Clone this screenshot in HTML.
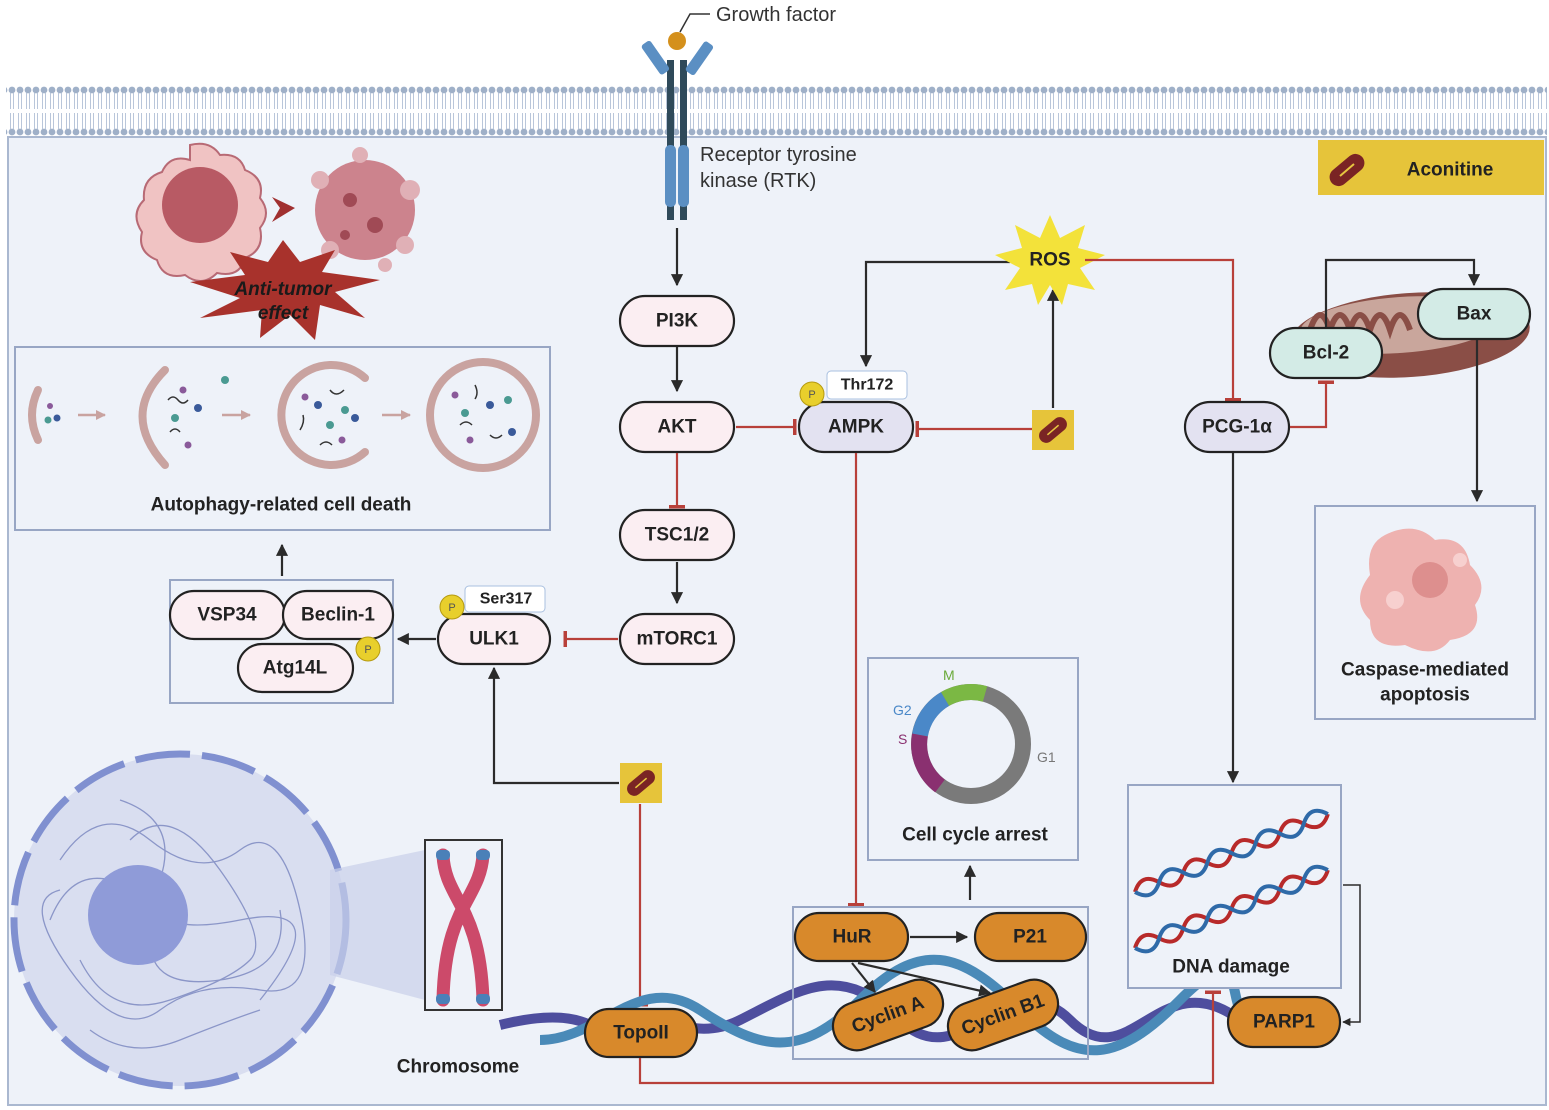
<!DOCTYPE html>
<html><head><meta charset="utf-8"><style>
html,body{margin:0;padding:0;background:#fff;}
svg{display:block;font-family:"Liberation Sans",sans-serif;}
.n{stroke:#222;stroke-width:2.2;}
.t{font-weight:bold;font-size:19px;text-anchor:middle;dominant-baseline:central;fill:#222;}
.k{stroke:#2b2b2b;stroke-width:2.2;fill:none;}
.r{stroke:#b8403a;stroke-width:2.2;fill:none;}
.box{fill:none;stroke:#98a6c4;stroke-width:2;}
</style></head><body>
<svg width="1549" height="1110" viewBox="0 0 1549 1110" xmlns="http://www.w3.org/2000/svg">
<defs>
<marker id="a" viewBox="0 0 10 10" refX="9" refY="5" markerWidth="5.5" markerHeight="5.5" orient="auto"><path d="M0,0L10,5L0,10z" fill="#2b2b2b"/></marker>
<marker id="a2" viewBox="0 0 10 10" refX="9" refY="5" markerWidth="4" markerHeight="4" orient="auto"><path d="M0,0L10,5L0,10z" fill="#c9a3a0"/></marker>
<marker id="b" viewBox="0 0 4 16" refX="2" refY="8" markerWidth="4" markerHeight="16" orient="auto" markerUnits="userSpaceOnUse"><rect x="0" y="0" width="3.5" height="16" fill="#b8403a"/></marker>
<pattern id="mem" x="0" y="86" width="8" height="50" patternUnits="userSpaceOnUse">
<circle cx="4" cy="4" r="3.4" fill="#9fb0c8"/><circle cx="4" cy="46" r="3.4" fill="#9fb0c8"/>
<path d="M2.5,7 L2.5,23 M5.5,7 L5.5,23 M2.5,27 L2.5,43 M5.5,27 L5.5,43" stroke="#b9c6da" stroke-width="1"/>
</pattern>
<g id="pill"><rect x="-9" y="-20" width="18" height="40" rx="9" fill="#7a2424" transform="rotate(50)"/><line x1="-7" y1="6" x2="7" y2="-6" stroke="#e7c640" stroke-width="2"/></g>
<path id="hx" d="M0,0 q13,-16 26,0 t26,0 t26,0 t26,0 t26,0 t26,0 t26,0 t26,0"/>
</defs>
<rect width="1549" height="1110" fill="#fff"/>
<rect x="8" y="137" width="1538" height="968" fill="#eef2f9" stroke="#aab8d0" stroke-width="2"/>
<rect x="6" y="86" width="1541" height="50" fill="url(#mem)"/>

<!-- receptor -->
<g>
<rect x="667" y="60" width="7" height="160" fill="#2f4a5a"/><rect x="680" y="60" width="7" height="160" fill="#2f4a5a"/>
<rect x="665" y="145" width="11" height="62" rx="5" fill="#5b8fc3"/><rect x="678" y="145" width="11" height="62" rx="5" fill="#5b8fc3"/>
<rect x="650" y="40" width="11" height="36" rx="3" fill="#5b8fc3" transform="rotate(-35 655 58)"/>
<rect x="694" y="40" width="11" height="36" rx="3" fill="#5b8fc3" transform="rotate(35 699 58)"/>
<circle cx="677" cy="41" r="9" fill="#d4901c"/>
<path d="M680,32 L690,14 L710,14" stroke="#333" stroke-width="1.5" fill="none"/>
<text x="716" y="21" font-size="20" fill="#333">Growth factor</text>
<text x="700" y="161" font-size="20" fill="#333">Receptor tyrosine</text>
<text x="700" y="187" font-size="20" fill="#333">kinase (RTK)</text>
</g>

<!-- tumor cells -->
<path d="M190,145 q20,-5 30,10 q20,-2 25,15 q20,8 15,28 q12,15 0,30 q5,22 -15,30 q-5,20 -28,15 q-15,15 -32,2 q-22,5 -28,-15 q-20,-8 -15,-28 q-12,-18 2,-32 q-2,-22 18,-28 q8,-18 28,-12z" fill="#f0c3c3" stroke="#b86a75" stroke-width="2"/>
<circle cx="200" cy="205" r="38" fill="#b85a64"/>
<path d="M272,197 L295,208 L272,222 L280,208z" fill="#a03030"/>
<g fill="#c5707a" opacity="0.85"><circle cx="365" cy="210" r="50"/></g>
<g fill="#e0b0b6"><circle cx="320" cy="180" r="9"/><circle cx="410" cy="190" r="10"/><circle cx="330" cy="250" r="9"/><circle cx="405" cy="245" r="9"/><circle cx="360" cy="155" r="8"/><circle cx="385" cy="265" r="7"/></g>
<g fill="#a04a55"><circle cx="350" cy="200" r="7"/><circle cx="375" cy="225" r="8"/><circle cx="345" cy="235" r="5"/></g>
<polygon points="283,240 300,262 335,250 322,272 380,280 335,292 365,318 320,305 315,340 290,315 260,338 262,310 200,318 240,298 190,282 245,275 230,252 268,262" fill="#a8322c"/>
<text x="283" y="295" font-size="19" font-weight="bold" font-style="italic" text-anchor="middle" fill="#1a1a1a">Anti-tumor</text>
<text x="283" y="319" font-size="19" font-weight="bold" font-style="italic" text-anchor="middle" fill="#1a1a1a">effect</text>

<!-- aconitine -->
<rect x="1318" y="140" width="226" height="55" fill="#e6c43a"/>
<use href="#pill" x="1347" y="170"/>
<text x="1450" y="170" class="t" font-size="24">Aconitine</text>

<!-- autophagy box -->
<rect x="15" y="347" width="535" height="183" class="box"/>
<g fill="none" stroke="#c9a3a0" stroke-width="8" stroke-linecap="round">
<path d="M38,390 Q26,415 38,440"/>
<path d="M165,370 Q120,415 165,465"/>
<path d="M365,378 A50,50 0 1 0 365,452"/>
<circle cx="483" cy="415" r="53"/>
</g>
<g stroke="#c9a3a0" stroke-width="2.5"><line x1="78" y1="415" x2="105" y2="415" marker-end="url(#a2)"/><line x1="222" y1="415" x2="250" y2="415" marker-end="url(#a2)"/><line x1="382" y1="415" x2="410" y2="415" marker-end="url(#a2)"/></g>
<g fill="#4a9a92"><circle cx="48" cy="420" r="3.5"/><circle cx="175" cy="418" r="4"/><circle cx="330" cy="425" r="4"/><circle cx="465" cy="413" r="4"/><circle cx="225" cy="380" r="4"/><circle cx="345" cy="410" r="4"/><circle cx="508" cy="400" r="4"/></g>
<g fill="#3a5a9a"><circle cx="57" cy="418" r="3.5"/><circle cx="198" cy="408" r="4"/><circle cx="318" cy="405" r="4"/><circle cx="490" cy="405" r="4"/><circle cx="355" cy="418" r="4"/><circle cx="512" cy="432" r="4"/></g>
<g fill="#8a5a9a"><circle cx="50" cy="406" r="3"/><circle cx="183" cy="390" r="3.5"/><circle cx="188" cy="445" r="3.5"/><circle cx="305" cy="397" r="3.5"/><circle cx="470" cy="440" r="3.5"/><circle cx="455" cy="395" r="3.5"/><circle cx="342" cy="440" r="3.5"/></g>
<g stroke="#333" stroke-width="1.5" fill="none"><path d="M168,400 q5,-6 10,0 t10,0"/><path d="M170,432 q5,-6 10,0"/><path d="M300,430 q5,-8 3,-15"/><path d="M330,390 q6,8 14,0"/><path d="M460,425 q6,-6 12,0"/><path d="M490,435 q6,6 12,0"/><path d="M475,385 q4,8 0,14"/><path d="M320,445 q6,-6 12,0"/></g>
<text x="281" y="505" class="t" font-size="20">Autophagy-related cell death</text>

<!-- autophagy complex box -->
<rect x="170" y="580" width="223" height="123" class="box" stroke="#7d8596"/>
<line x1="282" y1="576" x2="282" y2="545" class="k" marker-end="url(#a)"/>
<rect x="170" y="591" width="115" height="48" rx="24" fill="#fbeef2" class="n"/><text x="227" y="615" class="t">VSP34</text>
<rect x="283" y="591" width="110" height="48" rx="24" fill="#fbeef2" class="n"/><text x="338" y="615" class="t">Beclin-1</text>
<rect x="238" y="644" width="115" height="48" rx="24" fill="#fbeef2" class="n"/><text x="295" y="668" class="t">Atg14L</text>
<circle cx="368" cy="649" r="12" fill="#e8cf2c" stroke="#b59a10"/><text x="368" y="650" font-size="11" text-anchor="middle" dominant-baseline="central" fill="#555">P</text>

<!-- main column -->
<line x1="677" y1="228" x2="677" y2="285" class="k" marker-end="url(#a)"/>
<rect x="620" y="296" width="114" height="50" rx="25" fill="#fbeef2" class="n"/><text x="677" y="321" class="t">PI3K</text>
<line x1="677" y1="347" x2="677" y2="391" class="k" marker-end="url(#a)"/>
<rect x="620" y="402" width="114" height="50" rx="25" fill="#fbeef2" class="n"/><text x="677" y="427" class="t">AKT</text>
<line x1="677" y1="453" x2="677" y2="507" class="r" marker-end="url(#b)"/>
<rect x="620" y="510" width="114" height="50" rx="25" fill="#fbeef2" class="n"/><text x="677" y="535" class="t">TSC1/2</text>
<line x1="677" y1="562" x2="677" y2="603" class="k" marker-end="url(#a)"/>
<rect x="620" y="614" width="114" height="50" rx="25" fill="#fbeef2" class="n"/><text x="677" y="639" class="t">mTORC1</text>
<line x1="618" y1="639" x2="565" y2="639" class="r" marker-end="url(#b)"/>
<rect x="438" y="614" width="112" height="50" rx="25" fill="#fbeef2" class="n"/><text x="494" y="639" class="t">ULK1</text>
<rect x="465" y="586" width="80" height="26" rx="4" fill="#fff" stroke="#a9c0e0"/><text x="506" y="599" font-size="16" font-weight="bold" text-anchor="middle" dominant-baseline="central" fill="#222">Ser317</text>
<circle cx="452" cy="607" r="12" fill="#e8cf2c" stroke="#b59a10"/><text x="452" y="608" font-size="11" text-anchor="middle" dominant-baseline="central" fill="#555">P</text>
<line x1="436" y1="639" x2="398" y2="639" class="k" marker-end="url(#a)"/>
<path d="M619,783 L494,783 L494,668" class="k" marker-end="url(#a)"/>
<rect x="620" y="763" width="42" height="40" fill="#e6c43a"/><use href="#pill" x="641" y="783" transform="translate(641 783) scale(0.8) translate(-641 -783)"/>
<line x1="640" y1="804" x2="640" y2="1005" class="r" marker-end="url(#b)"/>

<!-- AMPK -->
<line x1="736" y1="427" x2="795" y2="427" class="r" marker-end="url(#b)"/>
<rect x="799" y="402" width="114" height="50" rx="25" fill="#e3e2f1" class="n"/><text x="856" y="427" class="t">AMPK</text>
<rect x="827" y="371" width="80" height="28" rx="4" fill="#fff" stroke="#a9c0e0"/><text x="867" y="385" font-size="16" font-weight="bold" text-anchor="middle" dominant-baseline="central" fill="#222">Thr172</text>
<circle cx="812" cy="394" r="12" fill="#e8cf2c" stroke="#b59a10"/><text x="812" y="395" font-size="11" text-anchor="middle" dominant-baseline="central" fill="#555">P</text>
<line x1="1032" y1="429" x2="917" y2="429" class="r" marker-end="url(#b)"/>
<rect x="1032" y="410" width="42" height="40" fill="#e6c43a"/><use href="#pill" x="1053" y="430" transform="translate(1053 430) scale(0.8) translate(-1053 -430)"/>
<line x1="1053" y1="408" x2="1053" y2="290" class="k" marker-end="url(#a)"/>
<path d="M1010,262 L866,262 L866,366" class="k" marker-end="url(#a)"/>
<polygon points="1050,215 1060,238 1085,225 1078,248 1105,255 1080,268 1095,290 1068,284 1062,305 1050,285 1038,305 1032,284 1005,290 1020,268 995,255 1022,248 1015,225 1040,238" fill="#f3e23a"/>
<text x="1050" y="260" class="t" font-size="19">ROS</text>
<path d="M1085,260 L1233,260 L1233,400" class="r" marker-end="url(#b)"/>
<line x1="856" y1="453" x2="856" y2="905" class="r" marker-end="url(#b)"/>

<!-- mitochondrion -->
<ellipse cx="1410" cy="335" rx="120" ry="42" fill="#8a4e46" transform="rotate(-4 1410 335)"/>
<ellipse cx="1400" cy="325" rx="100" ry="28" fill="#c9a69c" transform="rotate(-4 1400 325)"/>
<path d="M1310,330 q10,-30 20,0 q10,-30 20,0 q10,-30 20,0 q10,-30 20,0 q10,-30 20,0" stroke="#8a4e46" stroke-width="6" fill="none"/>
<rect x="1185" y="402" width="104" height="50" rx="25" fill="#e3e2f1" class="n"/><text x="1237" y="427" class="t">PCG-1α</text>
<path d="M1290,427 L1326,427 L1326,382" class="r" marker-end="url(#b)"/>
<rect x="1270" y="328" width="112" height="50" rx="25" fill="#d3ebe6" class="n"/><text x="1326" y="353" class="t">Bcl-2</text>
<rect x="1418" y="289" width="112" height="50" rx="25" fill="#d3ebe6" class="n"/><text x="1474" y="314" class="t">Bax</text>
<path d="M1326,327 L1326,260 L1474,260 L1474,285" class="k" marker-end="url(#a)"/>
<line x1="1477" y1="340" x2="1477" y2="501" class="k" marker-end="url(#a)"/>
<line x1="1233" y1="453" x2="1233" y2="782" class="k" marker-end="url(#a)"/>

<!-- apoptosis -->
<rect x="1315" y="506" width="220" height="213" class="box"/>
<path d="M1385,535 q30,-15 50,5 q30,-5 35,25 q20,20 5,40 q10,30 -25,35 q-15,20 -45,5 q-35,5 -35,-25 q-20,-20 0,-45 q-5,-30 15,-40z" fill="#eeb2b0"/>
<circle cx="1430" cy="580" r="18" fill="#dd8f8e"/>
<circle cx="1395" cy="600" r="9" fill="#f7d0cf"/><circle cx="1460" cy="560" r="7" fill="#f7d0cf"/>
<text x="1425" y="670" class="t">Caspase-mediated</text>
<text x="1425" y="695" class="t">apoptosis</text>

<!-- cell cycle -->
<rect x="868" y="658" width="210" height="202" class="box"/>
<circle cx="971" cy="744" r="52" fill="none" stroke="#7a7a7a" stroke-width="16"/>
<path d="M945,699 A52,52 0 0 1 985,694" stroke="#7bb844" stroke-width="16" fill="none"/>
<path d="M920,735 A52,52 0 0 1 945,699" stroke="#4a88c8" stroke-width="16" fill="none"/>
<path d="M940,786 A52,52 0 0 1 920,735" stroke="#8a3070" stroke-width="16" fill="none"/>
<text x="943" y="680" font-size="14" fill="#6aaa3a">M</text><text x="893" y="715" font-size="14" fill="#4a88c8">G2</text><text x="898" y="744" font-size="14" fill="#8a3070">S</text><text x="1037" y="762" font-size="14" fill="#777">G1</text>
<text x="975" y="835" class="t">Cell cycle arrest</text>
<line x1="970" y1="900" x2="970" y2="866" class="k" marker-end="url(#a)"/>

<!-- nucleus -->
<circle cx="180" cy="920" r="166" fill="#d9def0" stroke="#8090d0" stroke-width="7" stroke-dasharray="55 12"/>
<g fill="none" stroke="#8b96c8" stroke-width="1.3">
<path d="M60,860 q40,-60 90,-20 t90,10 t60,60 t-40,80 t-100,20 t-90,-40 t-10,-80"/>
<path d="M80,960 q30,60 90,40 t80,-40 t-30,-90 t-90,-30"/>
<path d="M120,800 q60,20 40,80 t80,40 t20,80"/>
<path d="M50,920 q20,-50 60,-40 t40,60 t70,40 t60,-70"/>
<path d="M90,1030 q40,30 90,10 t80,-30"/>
</g>
<circle cx="138" cy="915" r="50" fill="#8f9bd8"/>
<polygon points="330,870 425,850 425,1000 330,975" fill="#c9d0ea" opacity="0.7"/>
<rect x="425" y="840" width="77" height="170" fill="#eef2f9" stroke="#333" stroke-width="2"/>
<path d="M443,855 C445,900 480,905 483,1000 M483,855 C480,900 445,905 443,1000" stroke="#cc4a6a" stroke-width="13" fill="none" stroke-linecap="round"/>
<g fill="#4a80b8"><rect x="436" y="850" width="14" height="10" rx="4"/><rect x="476" y="850" width="14" height="10" rx="4"/><rect x="436" y="994" width="14" height="10" rx="4"/><rect x="476" y="994" width="14" height="10" rx="4"/></g>
<text x="458" y="1067" class="t" font-size="22">Chromosome</text>

<!-- DNA helix -->
<g fill="none" stroke-width="10">
<path d="M500,1025 Q560,1010 590,1025 C640,990 680,1050 740,1020 S840,960 900,1020 S1010,960 1070,1020 S1160,960 1240,1020" stroke="#4e4e9e"/>
<path d="M540,1040 C600,1040 640,970 700,1010 S800,1060 860,1000 S960,950 1020,1010 S1120,1060 1180,1000 S1230,990 1240,1010" stroke="#4a8ab8"/>
</g>

<!-- HuR box -->
<rect x="793" y="907" width="295" height="152" class="box" stroke="#7d8596"/>
<rect x="795" y="913" width="113" height="48" rx="24" fill="#d8892b" class="n"/><text x="852" y="937" class="t">HuR</text>
<line x1="910" y1="937" x2="967" y2="937" class="k" marker-end="url(#a)"/>
<rect x="975" y="913" width="111" height="48" rx="24" fill="#d8892b" class="n"/><text x="1030" y="937" class="t">P21</text>
<line x1="852" y1="963" x2="875" y2="992" class="k" marker-end="url(#a)"/>
<line x1="858" y1="963" x2="990" y2="993" class="k" marker-end="url(#a)"/>
<g transform="rotate(-20 888 1015)"><rect x="831" y="991" width="114" height="48" rx="24" fill="#d8892b" class="n"/><text x="888" y="1015" class="t">Cyclin A</text></g>
<g transform="rotate(-20 1003 1015)"><rect x="946" y="991" width="114" height="48" rx="24" fill="#d8892b" class="n"/><text x="1003" y="1015" class="t">Cyclin B1</text></g>
<rect x="585" y="1009" width="112" height="48" rx="24" fill="#d8892b" class="n"/><text x="641" y="1033" class="t">TopoII</text>
<path d="M640,1058 L640,1083 L1213,1083 L1213,992" class="r" marker-end="url(#b)"/>

<!-- DNA damage -->
<rect x="1128" y="785" width="213" height="203" fill="#eef2f9" stroke="#98a6c4" stroke-width="2"/>
<g fill="none" stroke-width="4">
<use href="#hx" stroke="#b82a2a" transform="translate(1135,892) rotate(-22)"/>
<use href="#hx" stroke="#2f6aa8" transform="translate(1135,892) rotate(-22) scale(1,-1)"/>
<use href="#hx" stroke="#b82a2a" transform="translate(1135,948) rotate(-22)"/>
<use href="#hx" stroke="#2f6aa8" transform="translate(1135,948) rotate(-22) scale(1,-1)"/>
</g>
<text x="1231" y="967" class="t">DNA damage</text>
<path d="M1343,885 L1360,885 L1360,1022 L1343,1022" stroke="#2b2b2b" stroke-width="1.5" fill="none" marker-end="url(#a)"/>
<rect x="1228" y="997" width="112" height="50" rx="25" fill="#d8892b" class="n"/><text x="1284" y="1022" class="t">PARP1</text>
</svg>
</body></html>
